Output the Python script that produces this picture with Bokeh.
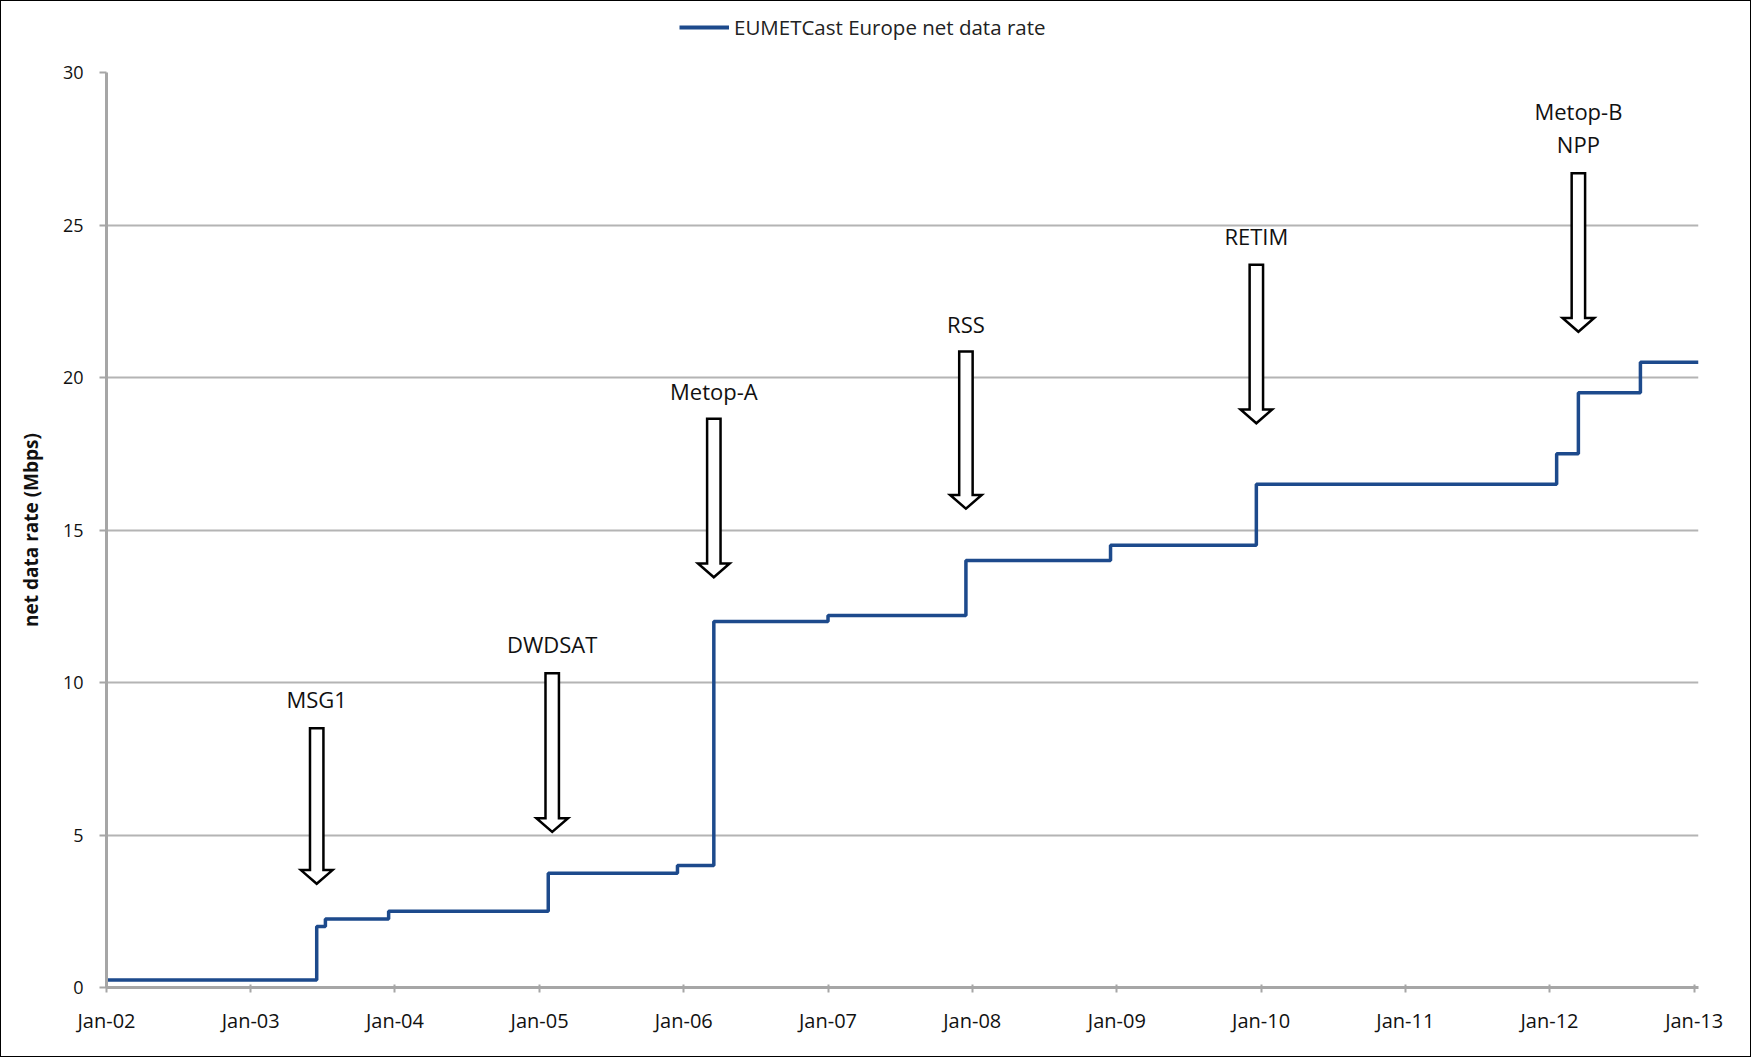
import pandas as pd
from bokeh.plotting import figure
from bokeh.layouts import column
from bokeh.models import (ColumnDataSource, FixedTicker, DatetimeTickFormatter,
                          Legend, LegendItem, Range1d)
from bokeh.core.properties import value
from bokeh.embed import file_html
from bokeh.resources import INLINE

# net data rate steps (Mbps), each value holds from its date on
step_dates = ["2002-01-01", "2003-06-17", "2003-07-09", "2003-12-16", "2005-01-23",
              "2005-12-16", "2006-03-18", "2007-01-01", "2007-12-16", "2008-12-16",
              "2009-12-20", "2012-01-19", "2012-03-14", "2012-08-18", "2013-01-12"]
step_rates = [0.25, 2.0, 2.25, 2.5, 3.75, 4.0, 12.0, 12.2, 14.0, 14.5,
              16.5, 17.5, 19.5, 20.5, 20.5]

# events marked with arrows
event_dates = ["2003-06-17", "2005-02-02", "2006-03-18", "2007-12-16", "2009-12-20", "2012-03-14"]
arrow_top = [8.5, 10.3, 18.65, 20.85, 23.7, 26.7]
arrow_tip = [3.4, 5.1, 13.45, 15.7, 18.5, 21.5]

label_text = ["MSG1", "DWDSAT", "Metop-A", "RSS", "RETIM", "Metop-B", "NPP"]
label_dates = ["2003-06-17", "2005-02-02", "2006-03-18", "2007-12-16", "2009-12-20", "2012-03-14", "2012-03-14"]
label_y = [9.45, 11.25, 19.55, 21.75, 24.65, 28.75, 27.65]

years = list(range(2002, 2014))
series_name = "EUMETCast Europe net data rate"

LINE_COLOR = "#1d4a8c"
FONT = "Open Sans"
W = 1749
HEAD_H = 56


def ms(d):
    return pd.Timestamp(d).value // 10**6


DAY = 86400000.0
src = ColumnDataSource(dict(x=[ms(d) for d in step_dates], y=step_rates))

# --- header strip holding the legend (its line sits outside the strip's view)
head = figure(width=W, height=HEAD_H, output_backend="svg", toolbar_location=None,
              min_border=0, x_range=(0, 1), y_range=(0, 1),
              x_axis_location=None, y_axis_location=None)
head.grid.grid_line_color = None
head.outline_line_color = None
key = head.line("x", "y", source=src, line_color=LINE_COLOR, line_width=4)
legend = Legend(items=[LegendItem(label=series_name, renderers=[key])],
                location=(573, 16), orientation="horizontal",
                label_text_font=FONT, label_text_font_size="20.5px", label_text_color="#222222",
                glyph_width=50, glyph_height=20, label_standoff=5,
                border_line_color=None, background_fill_alpha=0, padding=4, margin=0)
head.add_layout(legend, "center")

# --- main chart
p = figure(width=W, height=1055 - HEAD_H, x_axis_type="datetime",
           output_backend="svg", toolbar_location=None,
           min_border_left=105, min_border_top=71 - HEAD_H, min_border_right=52,
           min_border_bottom=69)
p.x_range = Range1d(ms("2002-01-01"), ms("2013-01-12"))
p.y_range = Range1d(0, 30)
p.outline_line_color = None
p.background_fill_color = "white"
p.border_fill_color = "white"

# grid
p.xgrid.grid_line_color = None
p.ygrid.grid_line_color = "#b4b4b4"
p.ygrid.grid_line_width = 2
p.ygrid.ticker = FixedTicker(ticks=[0, 5, 10, 15, 20, 25, 30])

# axes
p.xaxis.ticker = FixedTicker(ticks=[ms("%d-01-01" % y) for y in years])
fmt = "%b-%y"
p.xaxis.formatter = DatetimeTickFormatter(years=fmt, months=fmt, days=fmt, hours=fmt,
                                          minutes=fmt, seconds=fmt, milliseconds=fmt,
                                          microseconds=fmt)
p.yaxis.ticker = FixedTicker(ticks=[0, 5, 10, 15, 20, 25, 30])
for ax in (p.xaxis[0], p.yaxis[0]):
    ax.axis_line_color = "#a6a6a6"
    ax.axis_line_width = 3
    ax.major_tick_line_color = "#a6a6a6"
    ax.major_tick_line_width = 2
    ax.minor_tick_line_color = None
    ax.major_label_text_font = FONT
    ax.major_label_text_color = "#111111"
p.xaxis.major_tick_in = 3
p.xaxis.major_tick_out = 5
p.xaxis.major_label_text_font_size = "20px"
p.xaxis.major_label_standoff = 14
p.yaxis.major_tick_in = 0
p.yaxis.major_tick_out = 7
p.yaxis.major_label_text_font_size = "18px"
p.yaxis.major_label_standoff = 16
p.yaxis.axis_label = "net data rate (Mbps)"
p.yaxis.axis_label_text_font = FONT
p.yaxis.axis_label_text_font_style = "bold"
p.yaxis.axis_label_text_font_size = "19px"
p.yaxis.axis_label_text_color = "#111111"
p.yaxis.axis_label_standoff = 16

# data line
p.step("x", "y", source=src, mode="after", line_color=LINE_COLOR, line_width=3.5)

# hollow block arrows
shaft = 17 * DAY
head_w = 40 * DAY
head_h = 0.45
xs, ys = [], []
for d, top, tip in zip(event_dates, arrow_top, arrow_tip):
    c = ms(d)
    xs.append([c - shaft, c + shaft, c + shaft, c + head_w, c, c - head_w, c - shaft])
    ys.append([top, top, tip + head_h, tip + head_h, tip, tip + head_h, tip + head_h])
p.patches(xs, ys, fill_color="white", line_color="black", line_width=2.5, line_join="miter")

lab = ColumnDataSource(dict(x=[ms(d) for d in label_dates], y=label_y, t=label_text))
p.text("x", "y", text="t", source=lab, text_align="center", text_baseline="middle",
       text_font=value(FONT), text_font_size="22px", text_color="#111111")

page = column(head, p, spacing=0, styles={"border": "1px solid black", "background": "white"})

open("out.html", "w").write(file_html(page, INLINE))
